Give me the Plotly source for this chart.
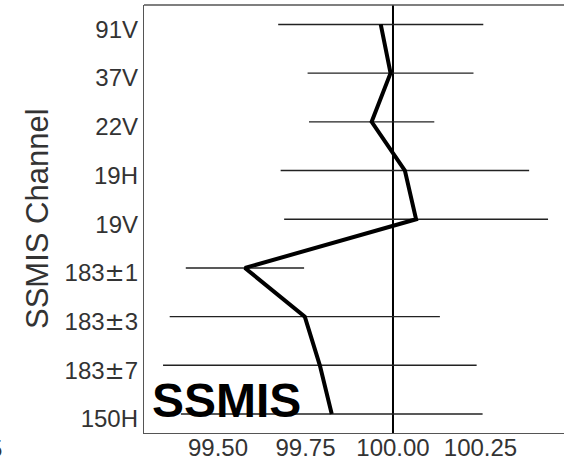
import plotly.graph_objects as go

# SSMIS channels, listed from bottom to top of the axis
channels = ["150H", "183±7", "183±3", "183±1", "19V", "19H", "22V", "37V", "91V"]
# Mean value per channel (%) and its spread
means = [99.825, 99.791, 99.748, 99.577, 100.066, 100.034, 99.939, 99.993, 99.965]
spreads = [0.431, 0.448, 0.386, 0.169, 0.377, 0.355, 0.179, 0.237, 0.293]

x_ticks = [99.50, 99.75, 100.00, 100.25]
x_range = [99.2886, 100.4886]
y_range = [-0.29, 8.5]
bar_shift = 0.1  # marks sit slightly above their tick labels

pos = list(range(len(channels)))
ypos = [p + bar_shift for p in pos]

FONT = "Liberation Sans, Arial, sans-serif"
TICK_COLOR = "#333333"
AXIS_COLOR = "#555555"

# the plus-minus sign is set in a wider face
tick_text = [c.replace("±", "<span style='font-family:DejaVu Sans'>±</span>")
             for c in channels]

fig = go.Figure()

# horizontal spread bars (no caps)
fig.add_trace(go.Scatter(
    x=means, y=ypos, mode="markers",
    marker=dict(size=1, color="rgba(0,0,0,0)"),
    error_x=dict(type="data", array=spreads, symmetric=True,
                 thickness=1.4, width=0, color="#222222"),
    showlegend=False, hoverinfo="skip",
))

# profile of the means
fig.add_trace(go.Scatter(
    x=means, y=ypos, mode="lines",
    line=dict(color="black", width=4),
    showlegend=False,
))

# reference line at 100
fig.add_shape(type="line", xref="x", yref="paper", x0=100, x1=100, y0=0, y1=1,
              line=dict(color="black", width=2), layer="below")
# top frame line
fig.add_shape(type="line", xref="paper", yref="paper", x0=0, x1=1, y0=1, y1=1,
              line=dict(color=AXIS_COLOR, width=1.3))

fig.add_annotation(text="<b>SSMIS</b>", xref="paper", yref="paper",
                   x=0.0143, y=0.0759, xanchor="left", yanchor="middle",
                   showarrow=False, font=dict(family=FONT, size=48, color="black"))

fig.add_annotation(text="SSMIS Channel", xref="paper", yref="paper",
                   x=(37 - 144) / 420, y=(433 - 219) / 428,
                   xanchor="center", yanchor="middle", textangle=-90,
                   showarrow=False, font=dict(family=FONT, size=31, color=TICK_COLOR))

fig.add_annotation(text="5", xref="paper", yref="paper",
                   x=(4 - 144) / 420, y=(433 - 448) / 428,
                   xanchor="right", yanchor="middle",
                   showarrow=False, font=dict(family=FONT, size=24, color=TICK_COLOR))

fig.update_xaxes(
    range=x_range, tickvals=x_ticks, tickformat=".2f",
    showgrid=False, zeroline=False, showline=True, automargin=False,
    linecolor=AXIS_COLOR, linewidth=1.3, ticks="", ticklabelstandoff=-7,
    tickfont=dict(family=FONT, size=24, color=TICK_COLOR),
)
fig.update_yaxes(
    range=y_range, tickvals=pos, ticktext=tick_text,
    showgrid=False, zeroline=False, showline=True, automargin=False,
    linecolor=AXIS_COLOR, linewidth=1.3, ticks="",
    tickfont=dict(family=FONT, size=24, color=TICK_COLOR),
)

fig.update_layout(
    template="none",
    width=564, height=462,
    margin=dict(l=144, r=0, t=5, b=29),
    paper_bgcolor="white", plot_bgcolor="white",
    font=dict(family=FONT),
)

fig.write_html("out.html")
